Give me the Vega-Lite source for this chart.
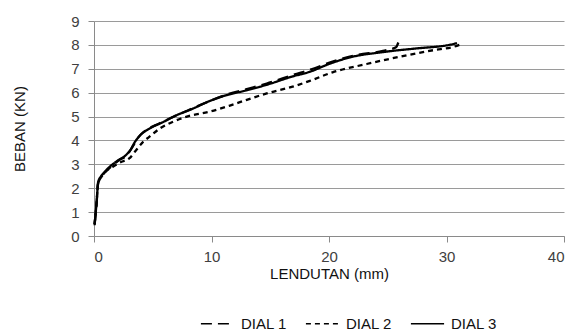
{
  "$schema": "https://vega.github.io/schema/vega-lite/v6.json",
  "width": 470,
  "height": 215,
  "autosize": {"type": "none"},
  "padding": {"left": 94, "top": 21, "right": 10, "bottom": 99},
  "background": "white",
  "config": {
    "view": {"stroke": null},
    "font": "Liberation Sans",
    "axis": {
      "labelFont": "Liberation Sans",
      "titleFont": "Liberation Sans",
      "labelFontSize": 15,
      "titleFontSize": 15,
      "titleFontWeight": "normal",
      "labelColor": "#404040",
      "titleColor": "#111",
      "domainColor": "#8a8a8a",
      "tickColor": "#8a8a8a",
      "gridColor": "#9a9a9a",
      "gridOpacity": 1,
      "domainWidth": 1,
      "tickSize": 6
    },
    "legend": {
      "labelFont": "Liberation Sans",
      "labelFontSize": 15,
      "labelColor": "#111"
    }
  },
  "data": {
    "values": [
      {"s": "DIAL 1", "i": 1, "x": 0.05, "y": 0.5},
      {"s": "DIAL 1", "i": 2, "x": 0.2, "y": 1.2},
      {"s": "DIAL 1", "i": 3, "x": 0.35, "y": 2.2},
      {"s": "DIAL 1", "i": 4, "x": 0.6, "y": 2.45},
      {"s": "DIAL 1", "i": 5, "x": 1.0, "y": 2.7},
      {"s": "DIAL 1", "i": 6, "x": 1.5, "y": 2.92},
      {"s": "DIAL 1", "i": 7, "x": 2.2, "y": 3.2},
      {"s": "DIAL 1", "i": 8, "x": 2.8, "y": 3.38},
      {"s": "DIAL 1", "i": 9, "x": 3.3, "y": 3.75},
      {"s": "DIAL 1", "i": 10, "x": 3.8, "y": 4.15},
      {"s": "DIAL 1", "i": 11, "x": 4.5, "y": 4.45},
      {"s": "DIAL 1", "i": 12, "x": 5.5, "y": 4.7},
      {"s": "DIAL 1", "i": 13, "x": 6.8, "y": 5.0},
      {"s": "DIAL 1", "i": 14, "x": 8.2, "y": 5.3},
      {"s": "DIAL 1", "i": 15, "x": 9.6, "y": 5.6},
      {"s": "DIAL 1", "i": 16, "x": 11.3, "y": 5.92},
      {"s": "DIAL 1", "i": 17, "x": 13.0, "y": 6.15},
      {"s": "DIAL 1", "i": 18, "x": 14.7, "y": 6.38},
      {"s": "DIAL 1", "i": 19, "x": 17.0, "y": 6.75},
      {"s": "DIAL 1", "i": 20, "x": 18.5, "y": 6.98},
      {"s": "DIAL 1", "i": 21, "x": 20.3, "y": 7.3},
      {"s": "DIAL 1", "i": 22, "x": 22.3, "y": 7.57},
      {"s": "DIAL 1", "i": 23, "x": 24.6, "y": 7.75},
      {"s": "DIAL 1", "i": 24, "x": 25.7, "y": 7.9},
      {"s": "DIAL 1", "i": 25, "x": 25.9, "y": 8.1},
      {"s": "DIAL 2", "i": 1, "x": 0.05, "y": 0.5},
      {"s": "DIAL 2", "i": 2, "x": 0.2, "y": 1.3},
      {"s": "DIAL 2", "i": 3, "x": 0.35, "y": 2.2},
      {"s": "DIAL 2", "i": 4, "x": 0.6, "y": 2.45},
      {"s": "DIAL 2", "i": 5, "x": 1.0, "y": 2.7},
      {"s": "DIAL 2", "i": 6, "x": 1.6, "y": 2.9},
      {"s": "DIAL 2", "i": 7, "x": 2.3, "y": 3.1},
      {"s": "DIAL 2", "i": 8, "x": 3.0, "y": 3.25},
      {"s": "DIAL 2", "i": 9, "x": 3.6, "y": 3.6},
      {"s": "DIAL 2", "i": 10, "x": 4.1, "y": 3.9},
      {"s": "DIAL 2", "i": 11, "x": 4.7, "y": 4.15},
      {"s": "DIAL 2", "i": 12, "x": 5.6, "y": 4.5},
      {"s": "DIAL 2", "i": 13, "x": 6.8, "y": 4.8},
      {"s": "DIAL 2", "i": 14, "x": 7.9, "y": 5.0},
      {"s": "DIAL 2", "i": 15, "x": 9.8, "y": 5.2},
      {"s": "DIAL 2", "i": 16, "x": 11.5, "y": 5.45},
      {"s": "DIAL 2", "i": 17, "x": 13.0, "y": 5.7},
      {"s": "DIAL 2", "i": 18, "x": 14.7, "y": 5.97},
      {"s": "DIAL 2", "i": 19, "x": 16.9, "y": 6.25},
      {"s": "DIAL 2", "i": 20, "x": 18.4, "y": 6.5},
      {"s": "DIAL 2", "i": 21, "x": 20.3, "y": 6.85},
      {"s": "DIAL 2", "i": 22, "x": 23.2, "y": 7.2},
      {"s": "DIAL 2", "i": 23, "x": 26.0, "y": 7.5},
      {"s": "DIAL 2", "i": 24, "x": 28.9, "y": 7.78},
      {"s": "DIAL 2", "i": 25, "x": 30.6, "y": 7.92},
      {"s": "DIAL 2", "i": 26, "x": 31.4, "y": 8.06},
      {"s": "DIAL 3", "i": 1, "x": 0.05, "y": 0.45},
      {"s": "DIAL 3", "i": 2, "x": 0.15, "y": 1.0},
      {"s": "DIAL 3", "i": 3, "x": 0.25, "y": 1.6},
      {"s": "DIAL 3", "i": 4, "x": 0.35, "y": 2.25},
      {"s": "DIAL 3", "i": 5, "x": 0.6, "y": 2.5},
      {"s": "DIAL 3", "i": 6, "x": 0.9, "y": 2.68},
      {"s": "DIAL 3", "i": 7, "x": 1.3, "y": 2.88},
      {"s": "DIAL 3", "i": 8, "x": 2.0, "y": 3.15},
      {"s": "DIAL 3", "i": 9, "x": 2.7, "y": 3.38},
      {"s": "DIAL 3", "i": 10, "x": 3.1, "y": 3.6},
      {"s": "DIAL 3", "i": 11, "x": 3.5, "y": 3.95},
      {"s": "DIAL 3", "i": 12, "x": 4.0, "y": 4.25},
      {"s": "DIAL 3", "i": 13, "x": 4.8, "y": 4.52},
      {"s": "DIAL 3", "i": 14, "x": 5.8, "y": 4.75},
      {"s": "DIAL 3", "i": 15, "x": 7.0, "y": 5.05},
      {"s": "DIAL 3", "i": 16, "x": 8.4, "y": 5.33},
      {"s": "DIAL 3", "i": 17, "x": 9.6, "y": 5.6},
      {"s": "DIAL 3", "i": 18, "x": 11.3, "y": 5.9},
      {"s": "DIAL 3", "i": 19, "x": 13.0, "y": 6.1},
      {"s": "DIAL 3", "i": 20, "x": 14.7, "y": 6.33},
      {"s": "DIAL 3", "i": 21, "x": 16.9, "y": 6.68},
      {"s": "DIAL 3", "i": 22, "x": 18.4, "y": 6.88},
      {"s": "DIAL 3", "i": 23, "x": 20.0, "y": 7.2},
      {"s": "DIAL 3", "i": 24, "x": 21.8, "y": 7.48},
      {"s": "DIAL 3", "i": 25, "x": 24.6, "y": 7.7},
      {"s": "DIAL 3", "i": 26, "x": 27.4, "y": 7.85},
      {"s": "DIAL 3", "i": 27, "x": 30.0, "y": 7.98},
      {"s": "DIAL 3", "i": 28, "x": 30.9, "y": 8.07}
    ]
  },
  "mark": {"type": "line", "color": "black", "strokeWidth": 2.3, "interpolate": "monotone"},
  "encoding": {
    "x": {
      "field": "x", "type": "quantitative",
      "scale": {"domain": [0, 40], "nice": false},
      "axis": {"values": [0, 10, 20, 30, 40], "grid": false, "title": "LENDUTAN (mm)", "labelPadding": 7, "titlePadding": 2}
    },
    "y": {
      "field": "y", "type": "quantitative",
      "scale": {"domain": [0, 9], "nice": false},
      "axis": {"values": [0, 1, 2, 3, 4, 5, 6, 7, 8, 9], "grid": true, "title": "BEBAN  (KN)", "labelPadding": 9, "titlePadding": 43}
    },
    "order": {"field": "i", "type": "quantitative"},
    "strokeDash": {
      "field": "s", "type": "nominal",
      "scale": {"domain": ["DIAL 1", "DIAL 2", "DIAL 3"], "range": [[11, 6], [5, 4], [1, 0]]},
      "legend": {
        "title": null,
        "orient": "none",
        "direction": "horizontal",
        "legendX": 106,
        "legendY": 285,
        "symbolType": "stroke",
        "symbolSize": 1100,
        "symbolStrokeWidth": 1.5,
        "symbolStrokeColor": "black",
        "labelOffset": 6,
        "columnPadding": 15
      }
    }
  }
}
